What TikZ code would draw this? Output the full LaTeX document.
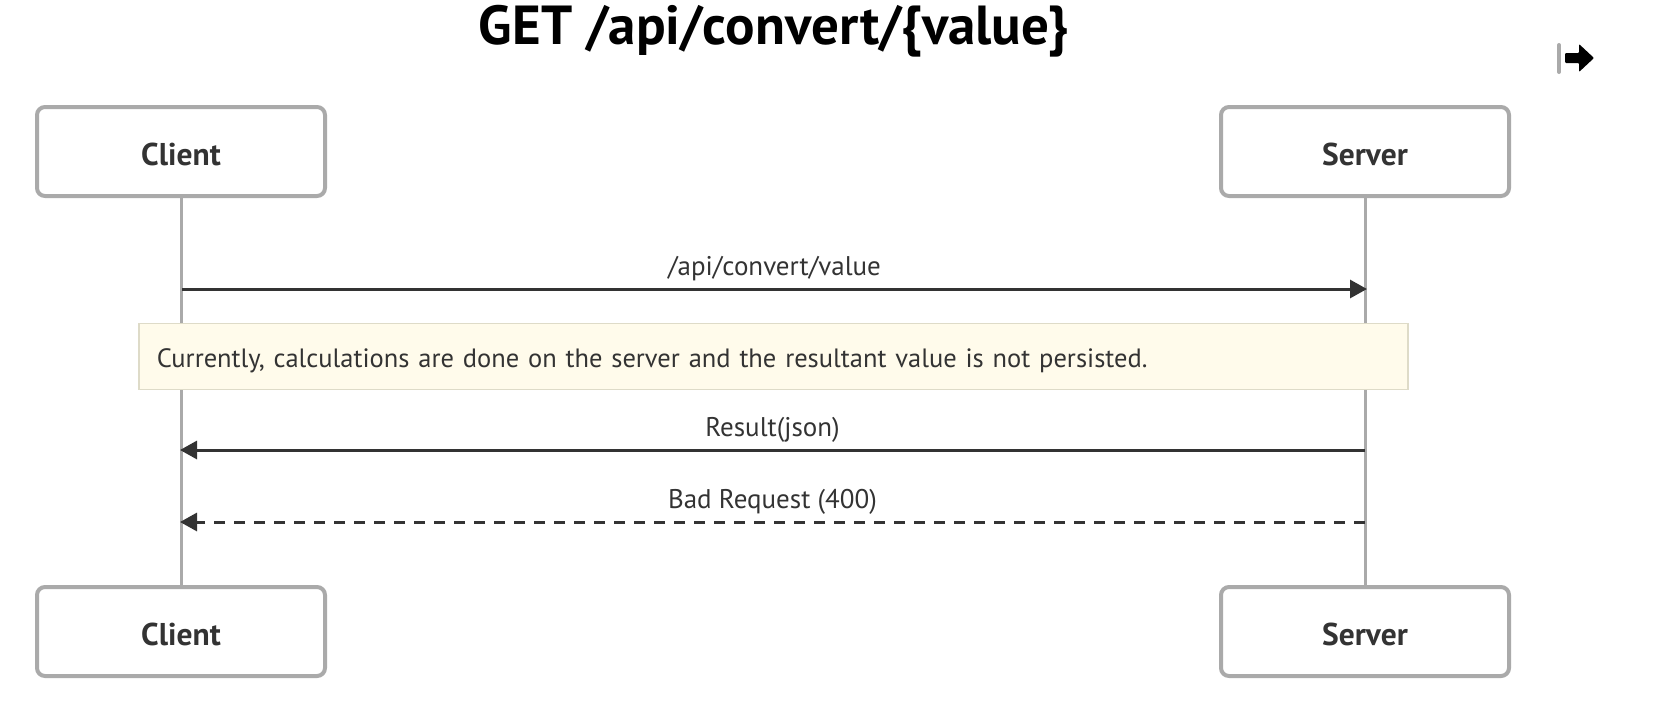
\documentclass[tikz,border=0pt]{standalone}
\usepackage{fontspec}
\setmainfont{PT Sans}
\usetikzlibrary{arrows.meta}
\definecolor{txt}{HTML}{333333}
\definecolor{boxline}{HTML}{AAAAAA}
\definecolor{notefill}{HTML}{FFFBEB}
\definecolor{noteline}{HTML}{DEDBC8}
\tikzset{
  actor/.style={draw=boxline, line width=4pt, rounded corners=8pt, fill=white,
    minimum width=288pt, minimum height=89pt, text=txt, text height=27pt, text depth=0pt,
    font=\fontsize{31.5}{36}\selectfont\bfseries},
  lifeline/.style={draw=boxline, line width=3pt},
  msg/.style={draw=txt, line width=3pt, -{Triangle[length=17pt,width=18pt]}},
  msgdash/.style={msg, dash pattern=on 11pt off 9pt},
  msglabel/.style={anchor=base, yshift=14pt, text=txt, font=\fontsize{27}{32}\selectfont, inner sep=0pt},
  notebox/.style={draw=noteline, line width=1.5pt, fill=notefill, text=txt,
    font=\fontsize{26.5}{31}\selectfont, anchor=north west, align=left,
    text width=1233pt, inner xsep=18pt, inner ysep=0pt, minimum height=66pt,
    text height=25pt, text depth=3pt},
}
\begin{document}
\begin{tikzpicture}[x=1pt,y=-1pt]
\useasboundingbox (0,0) rectangle (1666,716);
\node[font=\fontsize{55}{62}\selectfont\bfseries, text=black] (title) at (774,31) {GET /api/convert/\{value\}};
% icon
\draw[line width=4pt, draw=boxline, line cap=round] (1559,45) -- (1559,72);
\fill[black, rounded corners=1pt] (1565,53) -- (1579,53) -- (1579,44) -- (1594,58) -- (1579,72) -- (1579,63) -- (1565,63) -- cycle;
% actors
\node[actor] (ct) at (181,151.5) {Client};
\node[actor] (st) at (1365,151.5) {Server};
\node[actor] (cb) at (181,631.5) {Client};
\node[actor] (sb) at (1365,631.5) {Server};
\draw[lifeline] (ct.south) -- (cb.north);
\draw[lifeline] (st.south) -- (sb.north);
% messages
\coordinate (m1c) at (182,289);
\coordinate (m1s) at (1367,289);
\coordinate (m2c) at (180,450);
\coordinate (m2s) at (1365,450);
\coordinate (m3c) at (180,522);
\coordinate (m3s) at (1365,522);
\draw[msg] (m1c) -- node[msglabel] (l1) {/api/convert/value} (m1s);
\node[notebox] (note) at (138,322.5) {Currently, calculations are done on the server and the resultant value is not persisted.};
\draw[msg] (m2s) -- node[msglabel] (l2) {Result(json)} (m2c);
\draw[msgdash] (m3s) -- node[msglabel] (l3) {Bad Request (400)} (m3c);
\end{tikzpicture}
\end{document}
